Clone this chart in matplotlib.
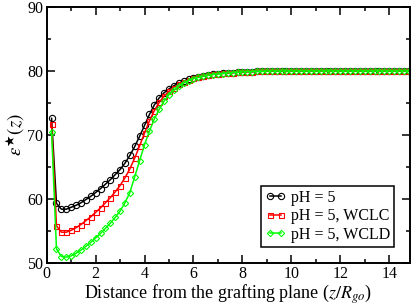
import numpy as np
import matplotlib
matplotlib.use("Agg")
import matplotlib.pyplot as plt
from matplotlib.ticker import MultipleLocator

plt.rcParams["font.family"] = ["Liberation Serif", "DejaVu Serif"]
plt.rcParams["mathtext.fontset"] = "stix"

# distance from grafting plane, sampled every 0.2
z = np.round(np.arange(0.2, 15.01, 0.2), 1)

eps_ph5 = [72.6, 59.3, 58.4, 58.4, 58.7, 59.0, 59.4, 59.9, 60.4, 61.0,
           61.6, 62.3, 63.0, 63.8, 64.6, 65.6, 66.8, 68.2, 69.8, 71.5,
           73.2, 74.7, 75.8, 76.6, 77.2, 77.7, 78.1, 78.4, 78.7, 78.9,
           79.1, 79.25, 79.4, 79.5, 79.6, 79.65, 79.7, 79.75, 79.8, 79.85,
           79.9, 79.9, 79.95, 79.95, 80.0, 80.0, 80.0, 80.0, 80.0, 80.0,
           80.0, 80.0, 80.0, 80.0, 80.0, 80.0, 80.0, 80.0, 80.0, 80.0,
           80.0, 80.0, 80.0, 80.0, 80.0, 80.0, 80.0, 80.0, 80.0, 80.0,
           80.0, 80.0, 80.0, 80.0, 80.0]

eps_wclc = [71.7, 55.8, 54.8, 54.8, 55.1, 55.5, 56.0, 56.6, 57.2, 57.9,
            58.6, 59.4, 60.2, 61.1, 62.1, 63.3, 64.7, 66.4, 68.3, 70.3,
            72.2, 73.8, 75.1, 76.1, 76.8, 77.4, 77.9, 78.3, 78.6, 78.9,
            79.1, 79.25, 79.4, 79.5, 79.6, 79.65, 79.7, 79.75, 79.8, 79.85,
            79.9, 79.9, 79.95, 79.95, 80.0, 80.0, 80.0, 80.0, 80.0, 80.0,
            80.0, 80.0, 80.0, 80.0, 80.0, 80.0, 80.0, 80.0, 80.0, 80.0,
            80.0, 80.0, 80.0, 80.0, 80.0, 80.0, 80.0, 80.0, 80.0, 80.0,
            80.0, 80.0, 80.0, 80.0, 80.0]

eps_wcld = [70.5, 52.2, 51.0, 50.9, 51.1, 51.5, 52.0, 52.6, 53.2, 53.9,
            54.6, 55.4, 56.2, 57.1, 58.1, 59.4, 61.0, 63.5, 66.0, 68.5,
            70.6, 72.5, 74.0, 75.3, 76.3, 77.0, 77.6, 78.1, 78.5, 78.8,
            79.0, 79.2, 79.35, 79.45, 79.55, 79.6, 79.7, 79.75, 79.8, 79.85,
            79.9, 79.9, 79.95, 79.95, 80.0, 80.0, 80.0, 80.0, 80.0, 80.0,
            80.0, 80.0, 80.0, 80.0, 80.0, 80.0, 80.0, 80.0, 80.0, 80.0,
            80.0, 80.0, 80.0, 80.0, 80.0, 80.0, 80.0, 80.0, 80.0, 80.0,
            80.0, 80.0, 80.0, 80.0, 80.0]

labels = ["pH = 5", "pH = 5, WCLC", "pH = 5, WCLD"]

fig = plt.figure(figsize=(4.15, 3.05), dpi=100)
ax = fig.add_axes([0.1125, 0.138, 0.876, 0.839])

ax.plot(z, eps_ph5, color="black", lw=1.1, marker="o", ms=4.5,
        mfc="none", mew=0.8, label=labels[0])
ax.plot(z, eps_wclc, color="#ff0000", lw=1.1, marker="s", ms=3.6,
        mfc="none", mew=0.8, label=labels[1])
ax.plot(z, eps_wcld, color="#00ff00", lw=1.1, marker="D", ms=3.2,
        mfc="none", mew=0.8, label=labels[2])

ax.set_xlim(0, 14.86)
ax.set_ylim(50, 90)
ax.xaxis.set_major_locator(MultipleLocator(2))
ax.xaxis.set_minor_locator(MultipleLocator(1))
ax.yaxis.set_major_locator(MultipleLocator(10))
ax.yaxis.set_minor_locator(MultipleLocator(5))
ax.tick_params(which="both", direction="in", top=True, right=True,
               width=1.1, labelsize=11.5, pad=2.5)
ax.tick_params(which="major", length=5.8)
ax.tick_params(which="minor", length=2.9)
for s in ax.spines.values():
    s.set_linewidth(1.4)

ax.set_xlabel(r"Distance from the grafting plane ($z/R_{go}$)", fontsize=13, labelpad=0)
ax.set_ylabel(r"$\varepsilon^{\bigstar}(z)$", fontsize=13.5, labelpad=0)

leg = ax.legend(loc="lower right", bbox_to_anchor=(0.955, 0.063), numpoints=2,
                handlelength=1.3, handletextpad=0.3, borderpad=0.25,
                labelspacing=0.15, fontsize=11.5, fancybox=False,
                framealpha=1, edgecolor="black", borderaxespad=0)
leg.get_frame().set_linewidth(1.1)

fig.savefig("out.png", dpi=100)
